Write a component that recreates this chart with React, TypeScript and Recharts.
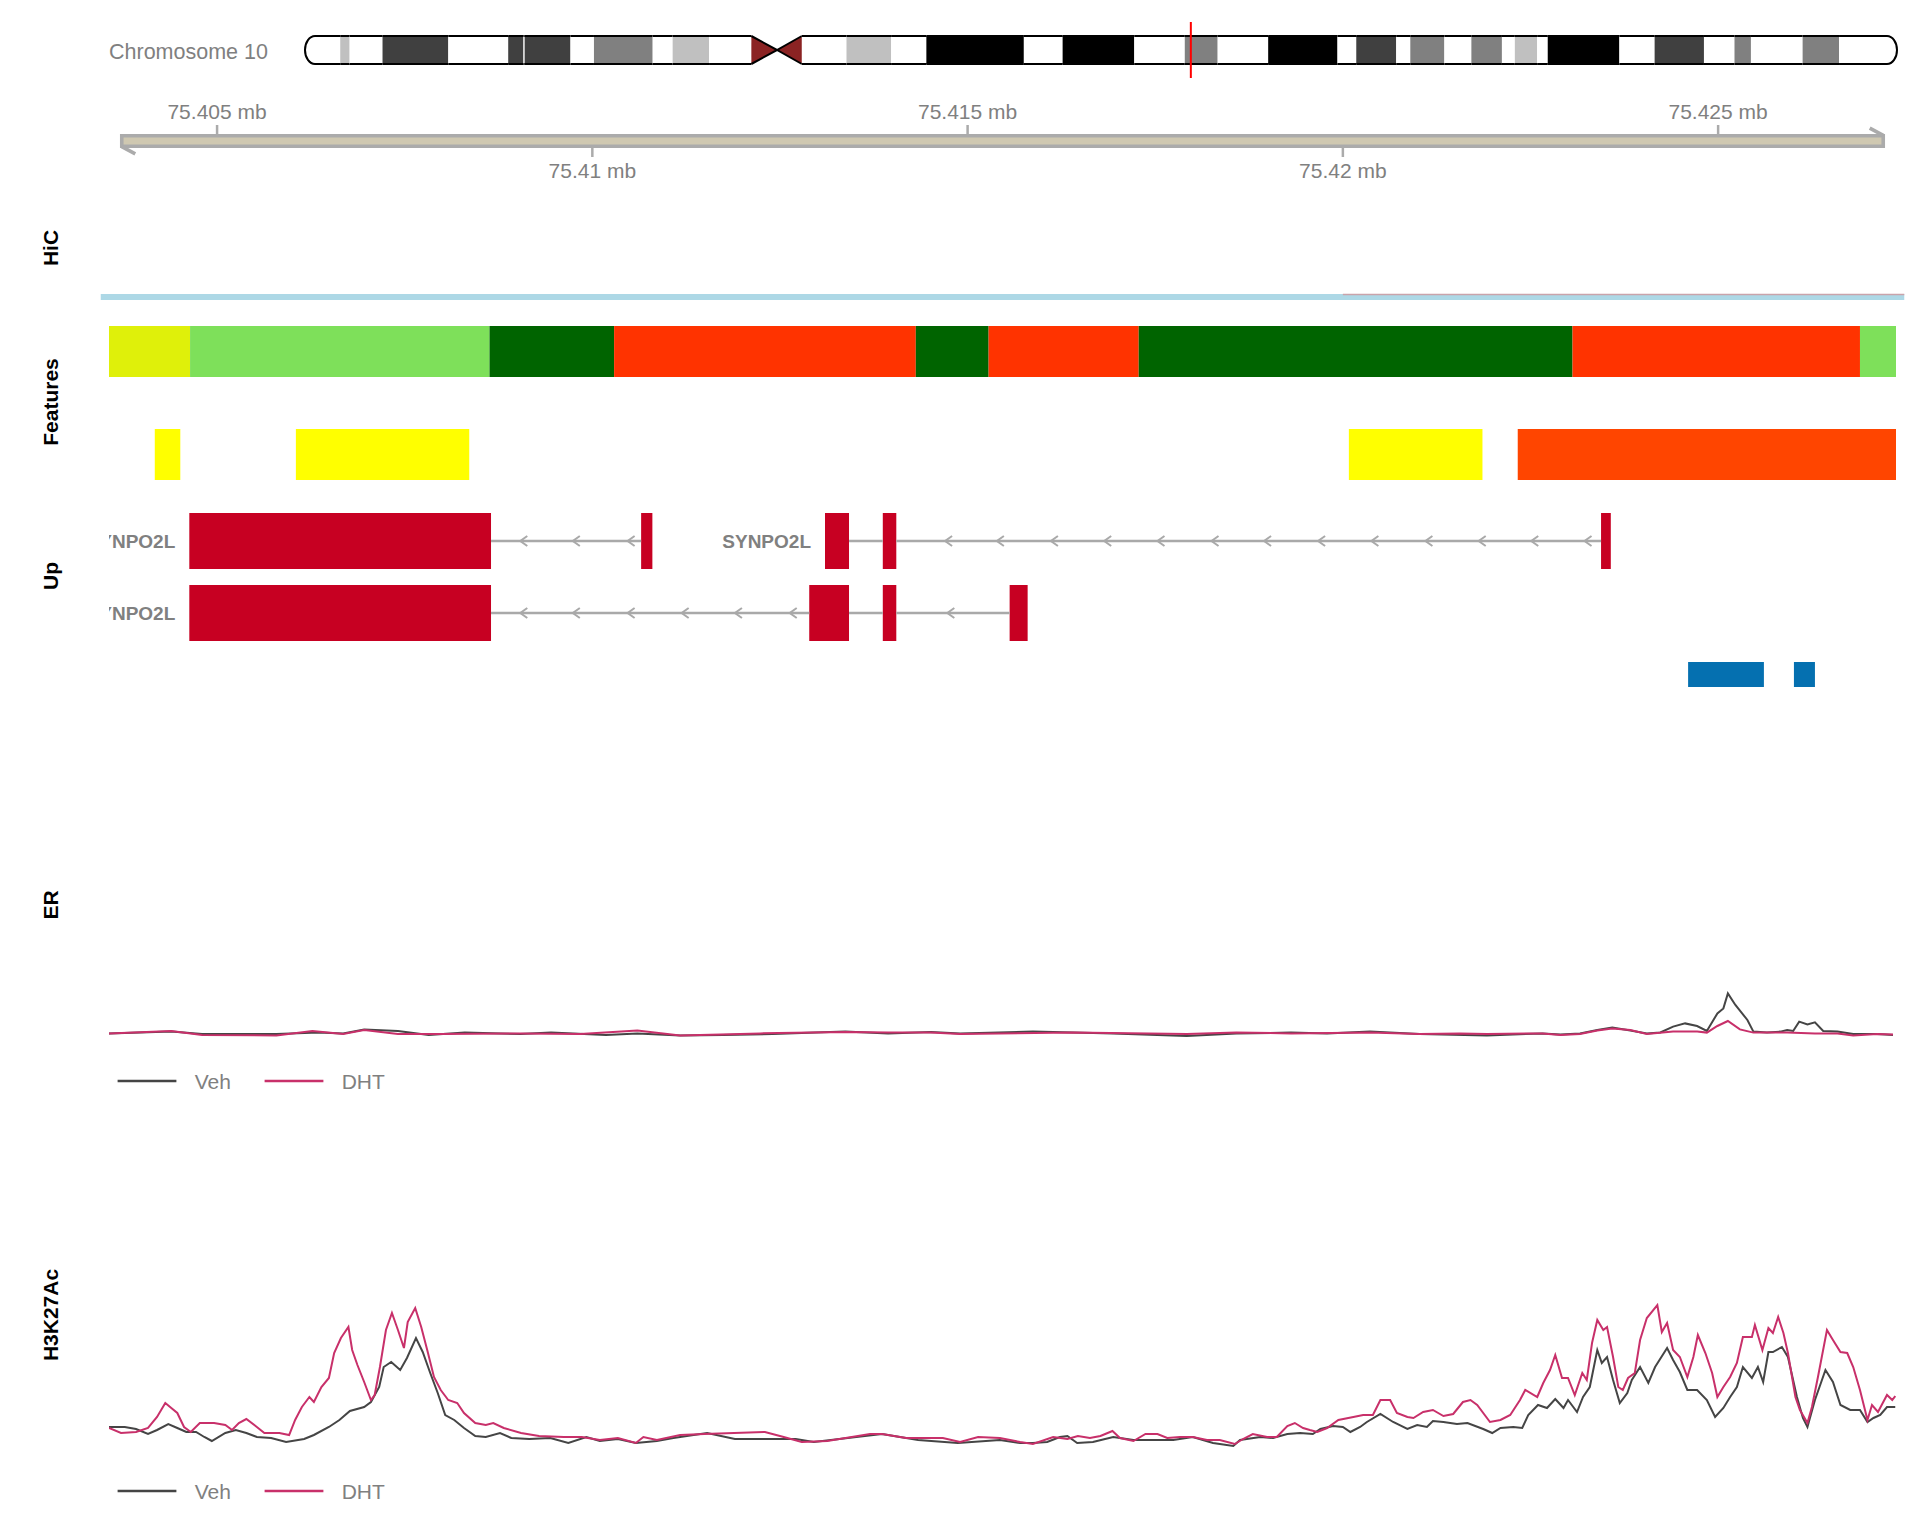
import React from "react";
import {
  ComposedChart,
  XAxis,
  YAxis,
  Line,
  Legend,
  ReferenceArea,
  ReferenceLine,
  ReferenceDot,
} from "recharts";

const PAGE_W = 1920;
const PAGE_H = 1536;
const FONT = "'Liberation Sans', Arial, Helvetica, sans-serif";
const GREY = "#808080";
const AXIS_GREY = "#ABABAB";

// genomic positions below are kb past chr10:75,400,000
const ORIGIN_KB = 75400;
const VIEW_KB = [3.56, 27.37];
const PLOT_LEFT = 109;
const PLOT_RIGHT = 24;

const mbLabel = (kb: number) => `${(ORIGIN_KB + kb) / 1000} mb`;

// ---- ideogram: chr10 cytobands (hg19), Mb ----
const CHR10_LEN = 135.534747;
const chr10Bands: [string, number, number, string][] = [
  ["p15.3", 0, 3.0, "gneg"],
  ["p15.2", 3.0, 3.8, "gpos25"],
  ["p15.1", 3.8, 6.6, "gneg"],
  ["p14", 6.6, 12.2, "gpos75"],
  ["p13", 12.2, 17.3, "gneg"],
  ["p12.33", 17.3, 18.6, "gpos75"],
  ["p12.32", 18.6, 18.7, "gneg"],
  ["p12.31", 18.7, 22.6, "gpos75"],
  ["p12.2", 22.6, 24.6, "gneg"],
  ["p12.1", 24.6, 29.6, "gpos50"],
  ["p11.23", 29.6, 31.3, "gneg"],
  ["p11.22", 31.3, 34.4, "gpos25"],
  ["p11.21", 34.4, 38.0, "gneg"],
  ["p11.1", 38.0, 40.2, "acen"],
  ["q11.1", 40.2, 42.3, "acen"],
  ["q11.21", 42.3, 46.1, "gneg"],
  ["q11.22", 46.1, 49.9, "gpos25"],
  ["q11.23", 49.9, 52.9, "gneg"],
  ["q21.1", 52.9, 61.2, "gpos100"],
  ["q21.2", 61.2, 64.5, "gneg"],
  ["q21.3", 64.5, 70.6, "gpos100"],
  ["q22.1", 70.6, 74.9, "gneg"],
  ["q22.2", 74.9, 77.7, "gpos50"],
  ["q22.3", 77.7, 82.0, "gneg"],
  ["q23.1", 82.0, 87.9, "gpos100"],
  ["q23.2", 87.9, 89.5, "gneg"],
  ["q23.31", 89.5, 92.9, "gpos75"],
  ["q23.32", 92.9, 94.1, "gneg"],
  ["q23.33", 94.1, 97.0, "gpos50"],
  ["q24.1", 97.0, 99.3, "gneg"],
  ["q24.2", 99.3, 101.9, "gpos50"],
  ["q24.31", 101.9, 103.0, "gneg"],
  ["q24.32", 103.0, 104.9, "gpos25"],
  ["q24.33", 104.9, 105.8, "gneg"],
  ["q25.1", 105.8, 111.9, "gpos100"],
  ["q25.2", 111.9, 114.9, "gneg"],
  ["q25.3", 114.9, 119.1, "gpos75"],
  ["q26.11", 119.1, 121.7, "gneg"],
  ["q26.12", 121.7, 123.1, "gpos50"],
  ["q26.13", 123.1, 127.5, "gneg"],
  ["q26.2", 127.5, 130.6, "gpos50"],
  ["q26.3", 130.6, 135.534747, "gneg"],
];
const highlightMb = 75.4155;

// ---- genome axis ----
const ticksAbove = [5, 15, 25];
const ticksBelow = [10, 20];
const axisSpan = [3.73, 27.2];

// ---- HiC ----
const hicSpan = [3.45, 27.48];
const hicLink = [20.0, 27.48];

// ---- chromatin states ----
const statesTop: [number, number, string][] = [
  [3.56, 4.64, "EnhG"],
  [4.64, 8.63, "Tx"],
  [8.63, 10.29, "TxWk"],
  [10.29, 14.31, "TssA"],
  [14.31, 15.28, "TxWk"],
  [15.28, 17.28, "TssA"],
  [17.28, 23.06, "TxWk"],
  [23.06, 26.89, "TssA"],
  [26.89, 27.37, "Tx"],
];
const statesBottom: [number, number, string][] = [
  [4.17, 4.51, "EnhWk"],
  [6.05, 8.36, "EnhWk"],
  [20.08, 21.86, "EnhWk"],
  [22.33, 27.37, "TssFlnk"],
];

// ---- gene models ----
const transcripts = [
  { label: "SYNPO2L", row: 0, exons: [[4.63, 8.65], [10.65, 10.8]], arrows: [9.08, 9.78, 10.51] },
  {
    label: "SYNPO2L",
    row: 0,
    exons: [[13.1, 13.42], [13.87, 14.05], [23.44, 23.57]],
    arrows: [14.74, 15.43, 16.15, 16.86, 17.57, 18.29, 18.99, 19.71, 20.42, 21.14, 21.85, 22.55, 23.26],
  },
  {
    label: "SYNPO2L",
    row: 1,
    exons: [[4.63, 8.65], [12.89, 13.42], [13.87, 14.05], [15.56, 15.8]],
    arrows: [9.08, 9.78, 10.51, 11.23, 11.94, 12.67, 14.77],
  },
];
const upRegions = [[24.6, 25.61], [26.01, 26.29]];

// ---- coverage (kb, signal) ----
const erVeh = [
  [3.56, 0.58], [4.39, 0.67], [4.8, 0.55], [5.79, 0.55], [6.35, 0.62], [6.68, 0.58], [6.96, 0.78],
  [7.41, 0.7], [7.82, 0.5], [8.3, 0.62], [9.04, 0.55], [9.45, 0.62], [10.18, 0.5], [10.6, 0.58],
  [11.17, 0.48], [11.74, 0.5], [12.4, 0.55], [13.37, 0.67], [13.94, 0.58], [14.51, 0.65], [14.9, 0.58],
  [15.87, 0.67], [16.94, 0.58], [17.92, 0.45], [18.58, 0.58], [19.31, 0.62], [19.79, 0.58], [20.36, 0.67],
  [21.02, 0.55], [21.92, 0.48], [22.66, 0.58], [22.9, 0.53], [23.16, 0.58], [23.39, 0.75], [23.59, 0.88],
  [23.83, 0.73], [24.05, 0.58], [24.23, 0.63], [24.4, 0.92], [24.56, 1.08], [24.72, 0.95], [24.85, 0.7],
  [24.99, 1.58], [25.07, 1.83], [25.13, 2.58], [25.23, 2.0], [25.32, 1.58], [25.39, 1.25], [25.47, 0.67],
  [25.65, 0.62], [25.83, 0.67], [25.92, 0.75], [26.0, 0.7], [26.08, 1.17], [26.19, 1.03], [26.29, 1.13],
  [26.4, 0.7], [26.59, 0.67], [26.8, 0.55], [27.12, 0.55], [27.33, 0.5],
];
const erDht = [
  [3.56, 0.58], [4.39, 0.7], [4.8, 0.5], [5.79, 0.48], [6.27, 0.7], [6.68, 0.55], [6.96, 0.75],
  [7.41, 0.55], [7.97, 0.55], [9.04, 0.58], [9.84, 0.55], [10.6, 0.72], [11.17, 0.48], [12.24, 0.58],
  [13.37, 0.65], [13.94, 0.62], [14.51, 0.62], [14.9, 0.55], [16.39, 0.63], [17.92, 0.55], [18.58, 0.62],
  [19.31, 0.58], [20.36, 0.62], [21.02, 0.55], [21.56, 0.58], [21.92, 0.55], [22.66, 0.58], [22.9, 0.5],
  [23.16, 0.55], [23.39, 0.73], [23.59, 0.83], [23.83, 0.75], [24.05, 0.55], [24.4, 0.67], [24.72, 0.67],
  [24.85, 0.62], [24.99, 0.95], [25.13, 1.2], [25.29, 0.78], [25.47, 0.62], [25.92, 0.62], [26.29, 0.58],
  [26.59, 0.58], [26.8, 0.47], [27.12, 0.55], [27.33, 0.52],
];
const h3kVeh = [
  [3.56, 1.65], [3.77, 1.65], [3.92, 1.55], [4.08, 1.3], [4.2, 1.5], [4.35, 1.8], [4.47, 1.6], [4.59, 1.4],
  [4.72, 1.4], [4.83, 1.15], [4.93, 0.95], [5.11, 1.35], [5.25, 1.5], [5.39, 1.35], [5.53, 1.15], [5.72, 1.1],
  [5.92, 0.9], [6.16, 1.05], [6.29, 1.25], [6.49, 1.65], [6.63, 2.0], [6.77, 2.45], [6.96, 2.65], [7.05, 2.9],
  [7.16, 3.65], [7.22, 4.65], [7.32, 4.9], [7.44, 4.5], [7.53, 5.1], [7.65, 6.1], [7.74, 5.4], [7.84, 4.35],
  [7.94, 3.35], [8.04, 2.25], [8.16, 2.0], [8.29, 1.6], [8.44, 1.2], [8.58, 1.15], [8.77, 1.35], [8.92, 1.1],
  [9.16, 1.05], [9.44, 1.1], [9.68, 0.85], [9.92, 1.15], [10.1, 0.95], [10.34, 1.05], [10.58, 0.85],
  [10.86, 0.95], [11.08, 1.1], [11.53, 1.35], [11.9, 1.05], [12.71, 1.05], [12.95, 0.9], [13.86, 1.3],
  [14.34, 1.0], [14.87, 0.85], [15.43, 1.0], [15.7, 0.85], [15.87, 0.85], [16.06, 0.9], [16.23, 1.15],
  [16.33, 1.2], [16.46, 0.85], [16.67, 0.9], [16.94, 1.15], [17.21, 1.0], [17.47, 1.0], [17.74, 1.0],
  [18.0, 1.15], [18.27, 0.85], [18.54, 0.7], [18.63, 1.0], [18.9, 1.15], [19.07, 1.1], [19.26, 1.3],
  [19.43, 1.35], [19.6, 1.3], [19.7, 1.55], [19.87, 1.7], [20.0, 1.65], [20.1, 1.4], [20.23, 1.65],
  [20.32, 1.9], [20.5, 2.3], [20.67, 1.9], [20.86, 1.55], [20.99, 1.75], [21.12, 1.65], [21.2, 1.95],
  [21.34, 1.9], [21.52, 1.8], [21.66, 1.85], [21.87, 1.55], [21.99, 1.35], [22.1, 1.6], [22.27, 1.65],
  [22.39, 1.6], [22.47, 2.25], [22.6, 2.75], [22.72, 2.6], [22.83, 3.05], [22.94, 2.6], [23.0, 3.0],
  [23.12, 2.4], [23.2, 3.15], [23.29, 3.65], [23.39, 5.5], [23.45, 4.85], [23.52, 5.15], [23.6, 4.0],
  [23.69, 2.85], [23.79, 3.35], [23.85, 4.0], [23.96, 4.65], [24.07, 3.85], [24.16, 4.65], [24.32, 5.6],
  [24.4, 5.0], [24.49, 4.4], [24.59, 3.5], [24.72, 3.5], [24.85, 3.0], [24.96, 2.15], [25.07, 2.6],
  [25.16, 3.15], [25.25, 3.65], [25.33, 4.65], [25.45, 4.1], [25.53, 4.65], [25.6, 3.9], [25.67, 5.4],
  [25.73, 5.4], [25.85, 5.65], [25.93, 5.15], [26.05, 3.15], [26.13, 2.1], [26.19, 1.65], [26.29, 3.0],
  [26.43, 4.5], [26.53, 3.9], [26.63, 2.75], [26.76, 2.5], [26.89, 2.5], [26.99, 1.9], [27.07, 2.1],
  [27.16, 2.25], [27.25, 2.65], [27.36, 2.65],
];
const h3kDht = [
  [3.56, 1.6], [3.72, 1.35], [3.92, 1.4], [4.08, 1.6], [4.2, 2.15], [4.31, 2.85], [4.39, 2.6], [4.47, 2.35],
  [4.56, 1.65], [4.65, 1.4], [4.77, 1.85], [4.96, 1.85], [5.11, 1.75], [5.2, 1.5], [5.29, 1.85], [5.39, 2.05],
  [5.53, 1.65], [5.63, 1.35], [5.83, 1.35], [5.96, 1.25], [6.04, 2.0], [6.13, 2.65], [6.23, 3.15], [6.29, 2.9],
  [6.39, 3.65], [6.49, 4.1], [6.56, 5.35], [6.65, 6.1], [6.75, 6.65], [6.8, 5.5], [6.87, 4.75], [6.96, 3.9],
  [7.05, 3.0], [7.1, 3.25], [7.17, 4.65], [7.25, 6.5], [7.33, 7.35], [7.41, 6.5], [7.49, 5.6], [7.54, 6.9],
  [7.64, 7.6], [7.72, 6.65], [7.8, 5.5], [7.89, 4.15], [7.98, 3.5], [8.08, 3.0], [8.2, 2.85], [8.29, 2.35],
  [8.44, 1.85], [8.58, 1.75], [8.68, 1.85], [8.82, 1.6], [9.05, 1.35], [9.29, 1.2], [9.62, 1.15],
  [9.86, 1.15], [10.1, 1.0], [10.34, 1.1], [10.58, 0.85], [10.68, 1.15], [10.86, 1.0], [11.17, 1.25],
  [11.49, 1.3], [12.3, 1.4], [12.55, 1.15], [12.79, 0.9], [13.13, 0.95], [13.7, 1.3], [13.86, 1.3],
  [14.18, 1.1], [14.67, 1.1], [14.9, 0.9], [15.14, 1.15], [15.43, 1.1], [15.7, 0.9], [15.87, 0.8],
  [16.14, 1.15], [16.33, 1.05], [16.47, 1.2], [16.63, 1.1], [16.77, 1.2], [16.93, 1.45], [17.03, 1.1],
  [17.21, 0.95], [17.37, 1.3], [17.53, 1.3], [17.66, 1.1], [17.83, 1.15], [18.0, 1.15], [18.19, 1.0],
  [18.36, 1.0], [18.56, 0.8], [18.67, 1.05], [18.8, 1.3], [18.99, 1.15], [19.12, 1.15], [19.26, 1.7],
  [19.36, 1.85], [19.47, 1.6], [19.56, 1.5], [19.66, 1.4], [19.79, 1.6], [19.94, 2.0], [20.14, 2.15],
  [20.27, 2.25], [20.4, 2.25], [20.5, 3.0], [20.63, 3.0], [20.72, 2.35], [20.86, 2.15], [20.94, 2.1],
  [21.07, 2.4], [21.2, 2.5], [21.34, 2.2], [21.47, 2.3], [21.6, 2.9], [21.7, 3.0], [21.79, 2.75],
  [21.96, 1.9], [22.1, 2.0], [22.23, 2.25], [22.36, 3.0], [22.43, 3.5], [22.59, 3.15], [22.67, 3.85],
  [22.76, 4.5], [22.83, 5.25], [22.92, 4.1], [23.0, 4.1], [23.09, 3.25], [23.19, 4.35], [23.25, 4.0],
  [23.32, 5.85], [23.39, 7.0], [23.47, 6.5], [23.52, 6.65], [23.6, 5.15], [23.67, 3.65], [23.73, 3.5],
  [23.8, 4.1], [23.89, 4.35], [23.96, 6.0], [24.05, 7.1], [24.19, 7.75], [24.25, 6.4], [24.32, 6.85],
  [24.4, 5.5], [24.49, 5.15], [24.59, 4.15], [24.67, 5.15], [24.73, 6.25], [24.83, 5.35], [24.92, 4.35],
  [24.99, 3.15], [25.07, 3.65], [25.16, 4.15], [25.25, 4.85], [25.33, 6.15], [25.45, 6.15], [25.49, 6.75],
  [25.59, 5.5], [25.67, 6.6], [25.73, 6.35], [25.8, 7.15], [25.87, 6.35], [25.93, 5.35], [26.03, 3.15],
  [26.09, 2.5], [26.19, 1.85], [26.25, 2.65], [26.33, 4.15], [26.45, 6.5], [26.53, 6.0], [26.63, 5.4],
  [26.72, 5.35], [26.8, 4.65], [26.89, 3.5], [26.99, 2.0], [27.05, 2.75], [27.13, 2.4], [27.25, 3.25],
  [27.32, 3.0], [27.36, 3.2],
];

// ---- styling ----
const STAIN_FILL: Record<string, string> = {
  gneg: "#FFFFFF",
  gpos25: "#C0C0C0",
  gpos50: "#808080",
  gpos75: "#404040",
  gpos100: "#000000",
  acen: "#8B2323",
};
const STATE_COLOR: Record<string, string> = {
  EnhG: "#DFF00A",
  Tx: "#7EE05A",
  TxWk: "#006400",
  TssA: "#FF3300",
  EnhWk: "#FFFF00",
  TssFlnk: "#FF4500",
};
const VEH_COLOR = "#454545";
const DHT_COLOR = "#C8306A";
const EXON_COLOR = "#C70022";
const UP_COLOR = "#0570B0";
const INTRON_COLOR = "#A9A9A9";
const LEGEND_ORDER = ["Veh", "DHT"];

// page-y layout of annotation rows
const STATE_ROWS = [[326, 377], [429, 480]];
const GENE_ROW_MID = [541, 613];
const EXON_HALF = 28;
const UP_ROW = [662, 687];

const trackTitles = [
  { label: "HiC", y: 248 },
  { label: "Features", y: 402 },
  { label: "Up", y: 576 },
  { label: "ER", y: 905 },
  { label: "H3K27Ac", y: 1315 },
];

const toPoints = (rows: number[][]) => rows.map(([kb, v]) => ({ kb, v }));

// invisible series: recharts 3 only builds scales when a chart has a series
const anchorLine = (key: string, xAxisId: any = 0) => (
  <Line
    key={key}
    xAxisId={xAxisId}
    dataKey="anchor"
    stroke="none"
    dot={false}
    activeDot={false}
    legendType="none"
    isAnimationActive={false}
  />
);

function drawBand(p: any, name: string, stain: string, first: boolean, last: boolean) {
  const { x, y, width: w, height: h } = p;
  const fill = STAIN_FILL[stain];
  if (stain === "acen") {
    const mid = y + h / 2;
    const pts = name.startsWith("p")
      ? `${x},${y} ${x + w},${mid} ${x},${y + h}`
      : `${x + w},${y} ${x},${mid} ${x + w},${y + h}`;
    return (
      <g>
        <polygon points={pts} fill={fill} />
        <polyline points={pts} fill="none" stroke="#000" strokeWidth={2} />
      </g>
    );
  }
  const r = 10;
  if (first) {
    const d = `M${x + w},${y} L${x + r},${y} A${r},${h / 2} 0 0 0 ${x + r},${y + h} L${x + w},${y + h}`;
    return (
      <g>
        <path d={d + " Z"} fill={fill} />
        <path d={d} fill="none" stroke="#000" strokeWidth={2} />
      </g>
    );
  }
  if (last) {
    const d = `M${x},${y} L${x + w - r},${y} A${r},${h / 2} 0 0 1 ${x + w - r},${y + h} L${x},${y + h}`;
    return (
      <g>
        <path d={d + " Z"} fill={fill} />
        <path d={d} fill="none" stroke="#000" strokeWidth={2} />
      </g>
    );
  }
  return (
    <g>
      <rect x={x} y={y} width={w} height={h} fill={fill} />
      <line x1={x} x2={x + w} y1={y} y2={y} stroke="#000" strokeWidth={2} />
      <line x1={x} x2={x + w} y1={y + h} y2={y + h} stroke="#000" strokeWidth={2} />
    </g>
  );
}

function Ideogram() {
  const n = chr10Bands.length;
  const rows = chr10Bands.map(([, s]) => ({ pos: s, anchor: 0.5 }));
  return (
    <div style={{ position: "absolute", left: 0, top: 0 }}>
      <ComposedChart width={PAGE_W} height={100} data={rows} margin={{ top: 36, right: 23, bottom: 36, left: 305 }}>
        <XAxis type="number" dataKey="pos" domain={[0, CHR10_LEN]} allowDataOverflow hide />
        <YAxis type="number" domain={[0, 1]} allowDataOverflow hide />
        {anchorLine("anchor")}
        {chr10Bands.map(([name, s, e, stain], i) => (
          <ReferenceArea
            key={name}
            x1={s}
            x2={e}
            y1={0}
            y2={1}
            ifOverflow="visible"
            shape={(p: any) => drawBand(p, name, stain, i === 0, i === n - 1)}
          />
        ))}
        <ReferenceLine
          segment={[{ x: highlightMb, y: -0.5 }, { x: highlightMb, y: 1.5 }]}
          stroke="#FF0000"
          strokeWidth={2}
          ifOverflow="visible"
        />
      </ComposedChart>
    </div>
  );
}

function GenomeAxis() {
  const tickProps = { fill: GREY, fontSize: 21 };
  const rows = [...ticksAbove, ...ticksBelow].map((kb) => ({ kb, anchor: 0.5 }));
  return (
    <div style={{ position: "absolute", left: 0, top: 80 }}>
      <ComposedChart width={PAGE_W} height={108} data={rows} margin={{ top: 0, right: PLOT_RIGHT, bottom: 0, left: PLOT_LEFT }}>
        <XAxis
          xAxisId="up"
          orientation="top"
          type="number"
          dataKey="kb"
          domain={VIEW_KB}
          allowDataOverflow
          ticks={ticksAbove}
          interval={0}
          tickFormatter={mbLabel}
          height={54}
          tickSize={9}
          tickMargin={6}
          axisLine={false}
          tickLine={{ stroke: AXIS_GREY, strokeWidth: 2.5 }}
          tick={tickProps}
        />
        <XAxis
          xAxisId="down"
          orientation="bottom"
          type="number"
          dataKey="kb"
          domain={VIEW_KB}
          allowDataOverflow
          ticks={ticksBelow}
          interval={0}
          tickFormatter={mbLabel}
          height={40}
          tickSize={9}
          tickMargin={6}
          axisLine={false}
          tickLine={{ stroke: AXIS_GREY, strokeWidth: 2.5 }}
          tick={tickProps}
        />
        <YAxis type="number" domain={[0, 1]} allowDataOverflow hide />
        {anchorLine("a-up", "up")}
        {anchorLine("a-down", "down")}
        <ReferenceArea
          xAxisId="up"
          x1={axisSpan[0]}
          x2={axisSpan[1]}
          y1={0.13}
          y2={0.87}
          fill="#CFC8B1"
          fillOpacity={1}
          stroke={AXIS_GREY}
          strokeWidth={3.6}
        />
        <ReferenceLine
          xAxisId="up"
          segment={[{ x: axisSpan[0], y: 0.1 }, { x: axisSpan[0] + 0.18, y: -0.42 }]}
          stroke={AXIS_GREY}
          strokeWidth={3.6}
          ifOverflow="visible"
        />
        <ReferenceLine
          xAxisId="up"
          segment={[{ x: axisSpan[1], y: 0.9 }, { x: axisSpan[1] - 0.18, y: 1.42 }]}
          stroke={AXIS_GREY}
          strokeWidth={3.6}
          ifOverflow="visible"
        />
      </ComposedChart>
    </div>
  );
}

function HiCTrack() {
  const rows = [...hicSpan, ...hicLink].map((kb) => ({ kb, anchor: 290 }));
  return (
    <div style={{ position: "absolute", left: 0, top: 270 }}>
      <ComposedChart width={PAGE_W} height={40} data={rows} margin={{ top: 0, right: PLOT_RIGHT, bottom: 0, left: PLOT_LEFT }}>
        <XAxis type="number" dataKey="kb" domain={VIEW_KB} allowDataOverflow hide />
        <YAxis type="number" domain={[270, 310]} reversed allowDataOverflow hide />
        {anchorLine("anchor")}
        <ReferenceArea
          x1={hicSpan[0]}
          x2={hicSpan[1]}
          y1={294}
          y2={300}
          fill="#ADD8E6"
          fillOpacity={1}
          ifOverflow="visible"
        />
        <ReferenceLine
          segment={[{ x: hicLink[0], y: 294.4 }, { x: hicLink[1], y: 294.4 }]}
          stroke="#C9A3AA"
          strokeWidth={1.5}
          ifOverflow="visible"
        />
      </ComposedChart>
    </div>
  );
}

function AnnotationTracks() {
  const rows = statesTop.map(([s]) => ({ kb: s, anchor: 310 }));
  return (
    <div
      style={{
        position: "absolute",
        left: 0,
        top: 300,
        clipPath: `inset(0px ${PLOT_RIGHT}px 0px ${PLOT_LEFT}px)`,
      }}
    >
      <ComposedChart width={PAGE_W} height={400} data={rows} margin={{ top: 0, right: PLOT_RIGHT, bottom: 0, left: PLOT_LEFT }}>
        <XAxis type="number" dataKey="kb" domain={VIEW_KB} allowDataOverflow hide />
        <YAxis type="number" domain={[300, 700]} reversed allowDataOverflow hide />
        {anchorLine("anchor")}

        {[statesTop, statesBottom].map((row, r) =>
          row.map(([s, e, st]) => (
            <ReferenceArea
              key={`st${r}-${s}`}
              x1={s}
              x2={e}
              y1={STATE_ROWS[r][0]}
              y2={STATE_ROWS[r][1]}
              fill={STATE_COLOR[st]}
              fillOpacity={1}
              ifOverflow="visible"
            />
          ))
        )}

        {transcripts.map((tx, t) => {
          const mid = GENE_ROW_MID[tx.row];
          const introns = tx.exons.slice(1).map((ex, i) => [tx.exons[i][1], ex[0]]);
          return [
            ...introns.map(([a, b], i) => (
              <ReferenceLine
                key={`in${t}-${i}`}
                segment={[{ x: a, y: mid }, { x: b, y: mid }]}
                stroke={INTRON_COLOR}
                strokeWidth={2.5}
                ifOverflow="visible"
              />
            )),
            ...tx.arrows.map((a, i) => (
              <ReferenceDot
                key={`ar${t}-${i}`}
                x={a}
                y={mid}
                ifOverflow="visible"
                shape={(p: any) => (
                  <path
                    d={`M${p.cx + 4},${p.cy - 5} L${p.cx - 3},${p.cy} L${p.cx + 4},${p.cy + 5}`}
                    fill="none"
                    stroke={INTRON_COLOR}
                    strokeWidth={2}
                  />
                )}
              />
            )),
            ...tx.exons.map(([s, e], i) => (
              <ReferenceArea
                key={`ex${t}-${i}`}
                x1={s}
                x2={e}
                y1={mid - EXON_HALF}
                y2={mid + EXON_HALF}
                fill={EXON_COLOR}
                fillOpacity={1}
                ifOverflow="visible"
              />
            )),
            <ReferenceDot
              key={`lb${t}`}
              x={tx.exons[0][0]}
              y={mid}
              ifOverflow="visible"
              shape={(p: any) => (
                <text
                  x={p.cx - 14}
                  y={p.cy}
                  textAnchor="end"
                  dominantBaseline="central"
                  fontSize={19}
                  fontWeight="bold"
                  fill={GREY}
                >
                  {tx.label}
                </text>
              )}
            />,
          ];
        })}

        {upRegions.map(([s, e]) => (
          <ReferenceArea
            key={`up${s}`}
            x1={s}
            x2={e}
            y1={UP_ROW[0]}
            y2={UP_ROW[1]}
            fill={UP_COLOR}
            fillOpacity={1}
            ifOverflow="visible"
          />
        ))}
      </ComposedChart>
    </div>
  );
}

const renderLegend = (props: any) => {
  const items = [...(props.payload || [])]
    .filter((it: any) => LEGEND_ORDER.includes(it.value))
    .sort((a: any, b: any) => LEGEND_ORDER.indexOf(a.value) - LEGEND_ORDER.indexOf(b.value));
  return (
    <svg width={320} height={30} style={{ display: "block", overflow: "visible" }}>
      {items.map((it: any, i: number) => (
        <g key={it.value} transform={`translate(${i * 147},0)`}>
          <line x1={5.6} x2={64.4} y1={15} y2={15} stroke={it.color} strokeWidth={2.5} />
          <text x={82.7} y={15} dominantBaseline="central" fill={GREY} fontSize={21}>
            {it.value}
          </text>
        </g>
      ))}
    </svg>
  );
};

function SignalTrack({ top, veh, dht, legendTop }: { top: number; veh: number[][]; dht: number[][]; legendTop: number }) {
  return (
    <div style={{ position: "absolute", left: 0, top }}>
      <ComposedChart width={PAGE_W} height={360} margin={{ top: 0, right: PLOT_RIGHT, bottom: 60, left: PLOT_LEFT }}>
        <XAxis type="number" dataKey="kb" domain={VIEW_KB} allowDataOverflow hide />
        <YAxis type="number" domain={[0, 15]} allowDataOverflow hide />
        <Line
          data={toPoints(veh)}
          dataKey="v"
          name="Veh"
          type="linear"
          stroke={VEH_COLOR}
          strokeWidth={2}
          dot={false}
          activeDot={false}
          isAnimationActive={false}
        />
        <Line
          data={toPoints(dht)}
          dataKey="v"
          name="DHT"
          type="linear"
          stroke={DHT_COLOR}
          strokeWidth={2}
          dot={false}
          activeDot={false}
          isAnimationActive={false}
        />
        <Legend
          layout="horizontal"
          verticalAlign="middle"
          align="center"
          content={renderLegend}
          wrapperStyle={{ left: 112, top: legendTop, width: 320, height: 30 }}
        />
      </ComposedChart>
    </div>
  );
}

export default function App() {
  return (
    <div
      style={{
        position: "absolute",
        left: 0,
        top: 0,
        width: PAGE_W,
        height: PAGE_H,
        background: "#FFFFFF",
        fontFamily: FONT,
        overflow: "hidden",
      }}
    >
      <svg width={PAGE_W} height={PAGE_H} style={{ position: "absolute", left: 0, top: 0 }}>
        <text x={109} y={59} fill={GREY} fontSize={21.5}>
          Chromosome 10
        </text>
        {trackTitles.map((t) => (
          <text
            key={t.label}
            transform={`translate(58,${t.y}) rotate(-90)`}
            textAnchor="middle"
            fontSize={21}
            fontWeight="bold"
            fill="#000"
          >
            {t.label}
          </text>
        ))}
      </svg>
      <Ideogram />
      <GenomeAxis />
      <HiCTrack />
      <AnnotationTracks />
      <SignalTrack top={745} veh={erVeh} dht={erDht} legendTop={320.7} />
      <SignalTrack top={1160} veh={h3kVeh} dht={h3kDht} legendTop={315.7} />
    </div>
  );
}
